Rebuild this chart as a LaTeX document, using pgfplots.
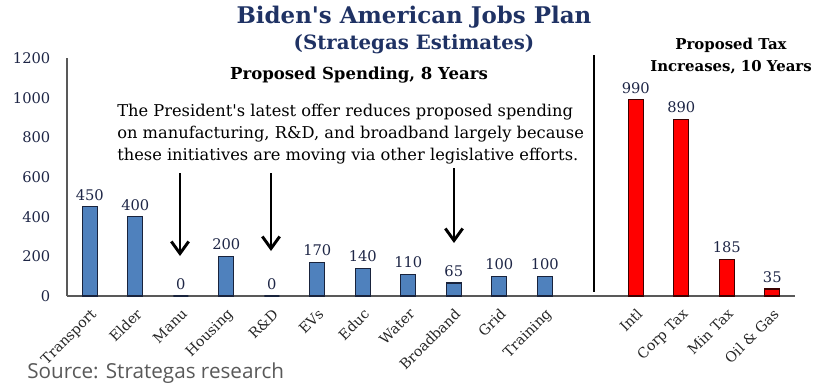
\documentclass[border=0pt]{standalone}
\usepackage{pgfplots}
\pgfplotsset{compat=1.18}
\usepackage{fontspec}
\setmainfont{DejaVu Serif}
\newfontfamily\srcfont{Open Sans}
\usetikzlibrary{arrows.meta}
\definecolor{titlenavy}{RGB}{31,50,100}
\definecolor{lblnavy}{RGB}{30,38,70}
\definecolor{barblue}{RGB}{79,129,189}
\definecolor{bardark}{RGB}{25,35,60}
\definecolor{reddark}{RGB}{60,0,0}
\definecolor{srcgray}{RGB}{89,89,89}
\begin{document}
\begin{tikzpicture}
\begin{axis}[
  at={(0pt,0pt)}, anchor=south west, scale only axis,
  width=546pt, height=178.5pt,
  xmin=-0.5, xmax=15.5, ymin=0, ymax=1200,
  axis x line*=bottom, axis y line*=left,
  axis line style={-, draw=gray!70!black, line width=0.9pt},
  major tick length=0pt,
  /pgf/number format/assume math mode=true,
  /pgf/number format/1000 sep={},
  ytick={0,200,400,600,800,1000,1200},
  xtick={0,1,2,3,4,5,6,7,8,9,10,12,13,14,15},
  xticklabels={Transport,Elder,Manu,Housing,R\&D,EVs,Educ,Water,Broadband,Grid,Training,Intl,Corp Tax,Min Tax,Oil \& Gas},
  x tick label style={rotate=45, anchor=north east, font=\fontsize{10.6}{12}\selectfont, inner sep=1pt, yshift=-5pt, xshift=-5pt, text=black!85},
  y tick label style={font=\fontsize{11}{12}\selectfont, text=lblnavy, xshift=-9pt},
  ybar, bar width=11.25pt, bar shift=0pt,
  nodes near coords,
  nodes near coords style={font=\fontsize{11}{12}\selectfont, text=lblnavy, anchor=south, yshift=1pt},
  clip=false,
]
\addplot[fill=barblue, draw=bardark, line width=1pt] coordinates {(0,450) (1,400) (2,0) (3,200) (4,0) (5,170) (6,140) (7,110) (8,65) (9,100) (10,100)};
\addplot[fill=red, draw=reddark, line width=1pt] coordinates {(12,990) (13,890) (14,185) (15,35)};
\end{axis}
\begin{scope}[shift={(-50.25pt,222pt)}, x=0.75pt, y=-0.75pt]
\node[font=\fontsize{17.2}{20}\selectfont\bfseries, text=titlenavy] at (414,17) {Biden\textquotesingle s American Jobs Plan};
\node[font=\fontsize{14.8}{16}\selectfont\bfseries, text=titlenavy] at (414,44) {(Strategas Estimates)};
\node[font=\fontsize{12.4}{14}\selectfont\bfseries] at (359,75) {Proposed Spending, 8 Years};
\node[font=\fontsize{11.2}{16.5}\selectfont\bfseries, align=center] at (731,56) {Proposed Tax\\Increases, 10 Years};
\node[font=\fontsize{12.2}{16.5}\selectfont, align=left, anchor=north west, inner sep=0pt] at (117,104) {The President\textquotesingle s latest offer reduces proposed spending\\on manufacturing, R\&D, and broadband largely because\\these initiatives are moving via other legislative efforts.};
\draw[line width=2.2pt] (594,55) -- (594,292);
\draw[line width=2.2pt, -{Straight Barb[length=9pt, width=13pt, line width=2.2pt]}] (180,173) -- (180,256);
\draw[line width=2.2pt, -{Straight Barb[length=9pt, width=13pt, line width=2.2pt]}] (271,173) -- (271,251);
\draw[line width=2.2pt, -{Straight Barb[length=9pt, width=13pt, line width=2.2pt]}] (454,168) -- (454,243);
\node[font=\srcfont\fontsize{15.5}{18}\selectfont, text=srcgray, anchor=west, inner sep=0pt] at (27,373) {Source: Strategas research};
\pgfresetboundingbox
\path[use as bounding box] (0,0) rectangle (816,387);
\end{scope}
\end{tikzpicture}
\end{document}
